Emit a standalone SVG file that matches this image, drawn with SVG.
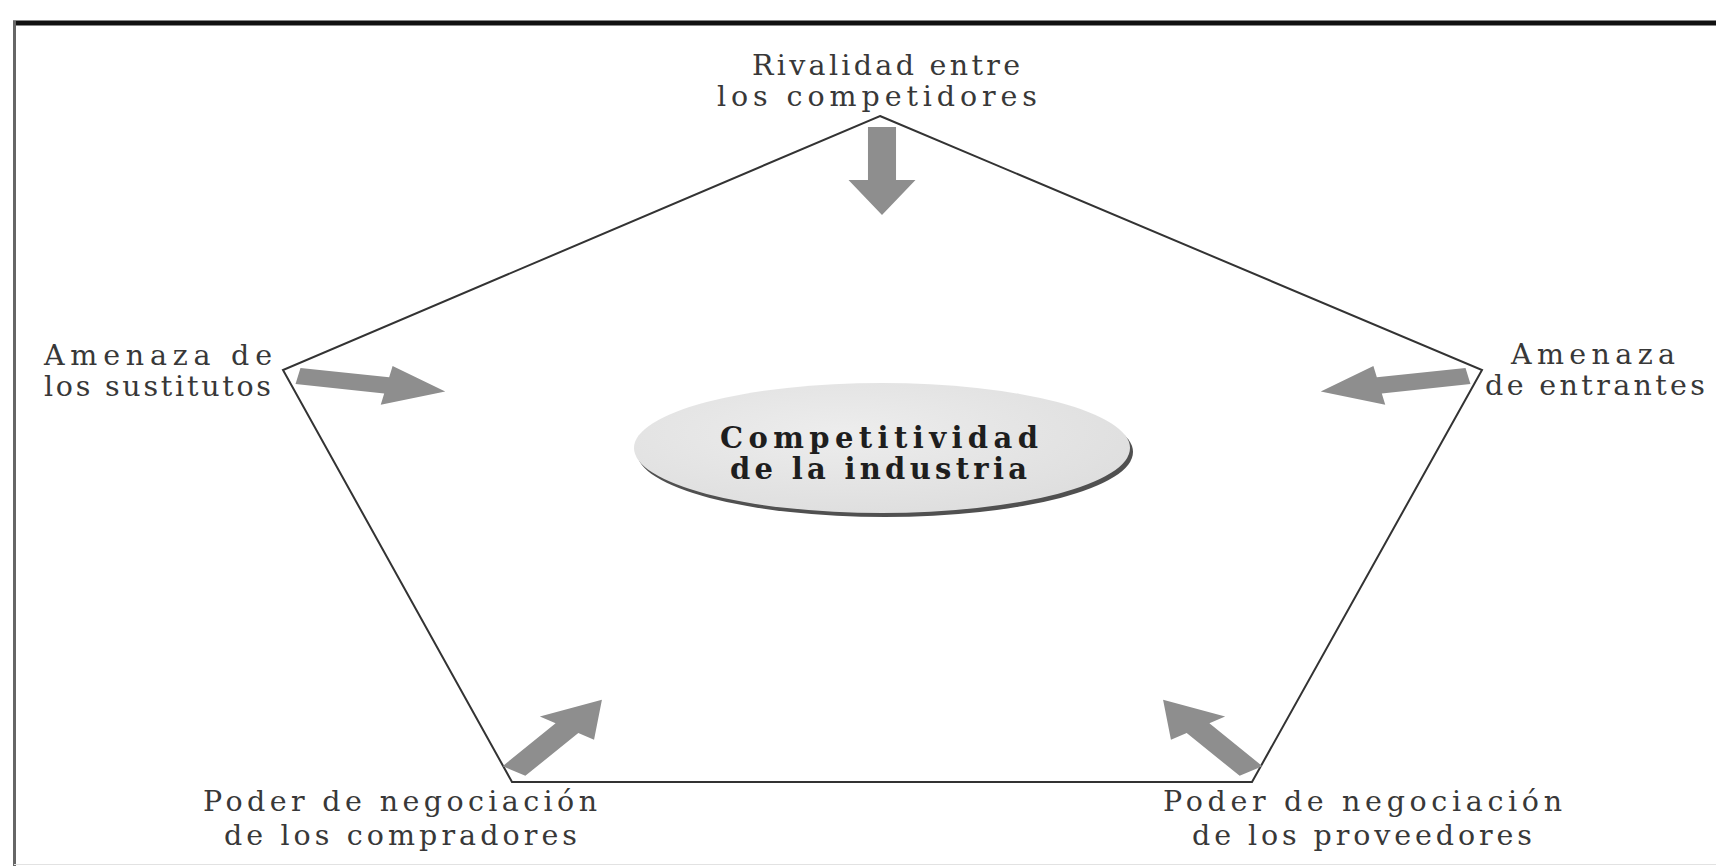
<svg xmlns="http://www.w3.org/2000/svg" width="1716" height="866" viewBox="0 0 1716 866">
  <defs>
    <style>
      .lbl { font-family: "DejaVu Serif", "Liberation Serif", serif; font-size: 28.5px; fill: #383838; }
      .ctr { font-family: "DejaVu Serif", "Liberation Serif", serif; font-size: 29px; font-weight: bold; fill: #1e1e1e; }
      .arrow { fill: #8e8e8e; }
    </style>
    <radialGradient id="ellFill" cx="0.42" cy="0.38" r="0.7">
      <stop offset="0" stop-color="#ededed"/>
      <stop offset="1" stop-color="#dddddd"/>
    </radialGradient>
    <polygon id="arrowShape" points="0,-8.25 53,-8.25 53,-19.7 88,0 53,19.7 53,8.25 0,8.25"/>
  </defs>

  <rect x="0" y="0" width="1716" height="866" fill="#ffffff"/>

  <g id="frame">
    <line x1="13" y1="23" x2="1716" y2="23" stroke="#111" stroke-width="5"/>
    <line x1="14.5" y1="21" x2="14.5" y2="866" stroke="#666" stroke-width="3"/>
    <line x1="14" y1="864.5" x2="1716" y2="864.5" stroke="#e2e2e2" stroke-width="1"/>
  </g>

  <g id="pentagon">
    <polygon points="880,116 1482,370 1252,782 512,782 283,370" fill="none" stroke="#333" stroke-width="2"/>
  </g>

  <g id="connectors">
    <use href="#arrowShape" class="arrow" transform="translate(882,127) scale(1.7,1) rotate(90)"/>
    <use href="#arrowShape" class="arrow" transform="translate(298,376) scale(1.7,1) rotate(10.2)"/>
    <use href="#arrowShape" class="arrow" transform="translate(1468,376) scale(1.7,1) rotate(169.8)"/>
    <use href="#arrowShape" class="arrow" transform="translate(514,771) scale(1.7,1) rotate(-54)"/>
    <use href="#arrowShape" class="arrow" transform="translate(1251,771) scale(1.7,1) rotate(-126)"/>
  </g>

  <g id="node-center">
    <ellipse cx="885" cy="452" rx="248" ry="65" fill="#505050"/>
    <ellipse cx="882" cy="448" rx="248" ry="65" fill="url(#ellFill)"/>
    <text class="ctr" x="720" y="448" textLength="318" lengthAdjust="spacing">Competitividad</text>
    <text class="ctr" x="730" y="479" textLength="297" lengthAdjust="spacing">de la industria</text>
  </g>

  <g id="node-rivalidad">
    <text class="lbl" x="752" y="75" textLength="268" lengthAdjust="spacing">Rivalidad entre</text>
    <text class="lbl" x="717" y="106" textLength="320" lengthAdjust="spacing">los competidores</text>
  </g>

  <g id="node-sustitutos">
    <text class="lbl" x="44" y="365" textLength="228" lengthAdjust="spacing">Amenaza de</text>
    <text class="lbl" x="44" y="396" textLength="227" lengthAdjust="spacing">los sustitutos</text>
  </g>

  <g id="node-entrantes">
    <text class="lbl" x="1511" y="364" textLength="164" lengthAdjust="spacing">Amenaza</text>
    <text class="lbl" x="1485" y="395" textLength="220" lengthAdjust="spacing">de entrantes</text>
  </g>

  <g id="node-compradores">
    <text class="lbl" x="203" y="811" textLength="394" lengthAdjust="spacing">Poder de negociación</text>
    <text class="lbl" x="224" y="845" textLength="353" lengthAdjust="spacing">de los compradores</text>
  </g>

  <g id="node-proveedores">
    <text class="lbl" x="1163" y="811" textLength="399" lengthAdjust="spacing">Poder de negociación</text>
    <text class="lbl" x="1192" y="845" textLength="340" lengthAdjust="spacing">de los proveedores</text>
  </g>
</svg>
